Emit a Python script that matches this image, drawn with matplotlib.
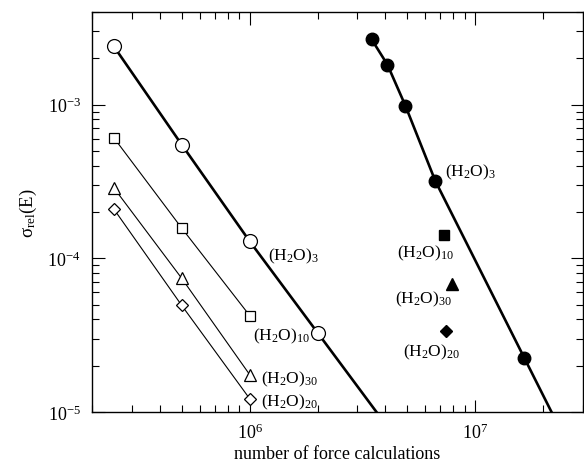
import matplotlib
matplotlib.use("Agg")
import matplotlib.pyplot as plt
import numpy as np
from matplotlib.ticker import LogLocator, LogFormatterMathtext, NullFormatter

plt.rcParams['font.family'] = ['Liberation Serif', 'DejaVu Serif']
plt.rcParams['mathtext.fontset'] = 'custom'
plt.rcParams['mathtext.rm'] = 'Liberation Serif'
plt.rcParams['mathtext.it'] = 'Liberation Serif:italic'

# ---- data ----
# open symbols: 4 cluster sizes, computed with the cheaper method
x_open3 = [2.5e5, 5e5, 1e6, 2e6]
y_open3 = [2.39e-3, 5.48e-4, 1.29e-4, 3.28e-5]

x_open = [2.5e5, 5e5, 1e6]
y_open10 = [6.08e-4, 1.57e-4, 4.24e-5]
y_open30 = [2.87e-4, 7.4e-5, 1.75e-5]
y_open20 = [2.09e-4, 4.93e-5, 1.22e-5]

# filled symbols
x_fill3 = [3.47e6, 4.08e6, 4.9e6, 6.65e6, 1.65e7]
y_fill3 = [2.66e-3, 1.82e-3, 9.85e-4, 3.19e-4, 2.25e-5]

x_fill10, y_fill10 = 7.3e6, 1.41e-4
x_fill30, y_fill30 = 7.9e6, 6.76e-5
x_fill20, y_fill20 = 7.45e6, 3.38e-5

lab3 = r'(H$_\mathrm{2}$O)$_\mathrm{3}$'
lab10 = r'(H$_\mathrm{2}$O)$_\mathrm{10}$'
lab20 = r'(H$_\mathrm{2}$O)$_\mathrm{20}$'
lab30 = r'(H$_\mathrm{2}$O)$_\mathrm{30}$'

YMIN, YMAX = 1e-5, 4e-3


def extend_to_floor(xs, ys, floor):
    # prolonga o último segmento (em escala log) até o limite inferior do eixo
    lx, ly = np.log10(xs), np.log10(ys)
    slope = (ly[-1] - ly[-2]) / (lx[-1] - lx[-2])
    x_end = lx[-1] + (np.log10(floor) - ly[-1]) / slope
    return list(xs) + [10 ** x_end], list(ys) + [floor]


fig = plt.figure(figsize=(5.84, 4.64), dpi=100)
ax = fig.add_axes([0.1575, 0.110, 0.998 - 0.1575, 0.972 - 0.110])
ax.set_xscale('log')
ax.set_yscale('log')

# thick lines for (H2O)3
xl, yl = extend_to_floor(x_open3, y_open3, YMIN)
ax.plot(xl, yl, color='black', lw=1.9, zorder=2)
xl, yl = extend_to_floor(x_fill3, y_fill3, YMIN)
ax.plot(xl, yl, color='black', lw=1.9, zorder=2)

# thin lines
for ys in (y_open10, y_open30, y_open20):
    ax.plot(x_open, ys, color='black', lw=0.8, zorder=2)

# markers
ax.plot(x_open3, y_open3, 'o', ms=10, mfc='white', mec='black', mew=0.9, zorder=3)
ax.plot(x_open, y_open10, 's', ms=7.5, mfc='white', mec='black', mew=0.9, zorder=3)
ax.plot(x_open, y_open30, '^', ms=8.5, mfc='white', mec='black', mew=0.9, zorder=3)
ax.plot(x_open, y_open20, 'D', ms=6.5, mfc='white', mec='black', mew=0.9, zorder=3)

ax.plot(x_fill3, y_fill3, 'o', ms=9, color='black', zorder=3)
ax.plot([x_fill10], [y_fill10], 's', ms=7.5, color='black', zorder=3)
ax.plot([x_fill30], [y_fill30], '^', ms=8.5, color='black', zorder=3)
ax.plot([x_fill20], [y_fill20], 'D', ms=6, color='black', zorder=3)

# labels
fs = 12.5
ax.annotate(lab3, (x_open3[2], y_open3[2]), xytext=(13, -10), textcoords='offset points',
            fontsize=fs, va='center', ha='left')
ax.annotate(lab10, (x_open3[3], y_open3[3]), xytext=(-5, -2), textcoords='offset points',
            fontsize=fs, va='center', ha='right')
ax.annotate(lab30, (x_open[2], y_open30[2]), xytext=(8, -3), textcoords='offset points',
            fontsize=fs, va='center', ha='left')
ax.annotate(lab20, (x_open[2], y_open20[2]), xytext=(8, -2), textcoords='offset points',
            fontsize=fs, va='center', ha='left')

ax.annotate(lab3, (x_fill3[3], y_fill3[3]), xytext=(7, 7), textcoords='offset points',
            fontsize=fs, va='center', ha='left')
ax.annotate(lab10, (x_fill10, y_fill10), xytext=(7, -12), textcoords='offset points',
            fontsize=fs, va='center', ha='right')
ax.annotate(lab30, (x_fill30, y_fill30), xytext=(0, -10), textcoords='offset points',
            fontsize=fs, va='center', ha='right')
ax.annotate(lab20, (x_fill20, y_fill20), xytext=(10, -15), textcoords='offset points',
            fontsize=fs, va='center', ha='right')

# eixos
ax.set_xlim(2e5, 3e7)
ax.set_ylim(YMIN, YMAX)
ax.xaxis.set_major_locator(LogLocator(base=10))
ax.yaxis.set_major_locator(LogLocator(base=10))
ax.xaxis.set_minor_locator(LogLocator(base=10, subs=np.arange(2, 10)))
ax.yaxis.set_minor_locator(LogLocator(base=10, subs=np.arange(2, 10)))
ax.xaxis.set_major_formatter(LogFormatterMathtext())
ax.yaxis.set_major_formatter(LogFormatterMathtext())
ax.xaxis.set_minor_formatter(NullFormatter())
ax.yaxis.set_minor_formatter(NullFormatter())
ax.tick_params(which='both', direction='in', top=True, right=True, labelsize=13, width=0.8)
ax.tick_params(which='major', length=9, pad=8)
ax.tick_params(which='minor', length=5)
for s in ax.spines.values():
    s.set_linewidth(1.0)

ax.set_xlabel('number of force calculations', fontsize=13, labelpad=2)
ax.set_ylabel(r'σ$_\mathrm{rel}$(E)', fontsize=13.5, labelpad=6)

fig.savefig('out.png', dpi=100)
